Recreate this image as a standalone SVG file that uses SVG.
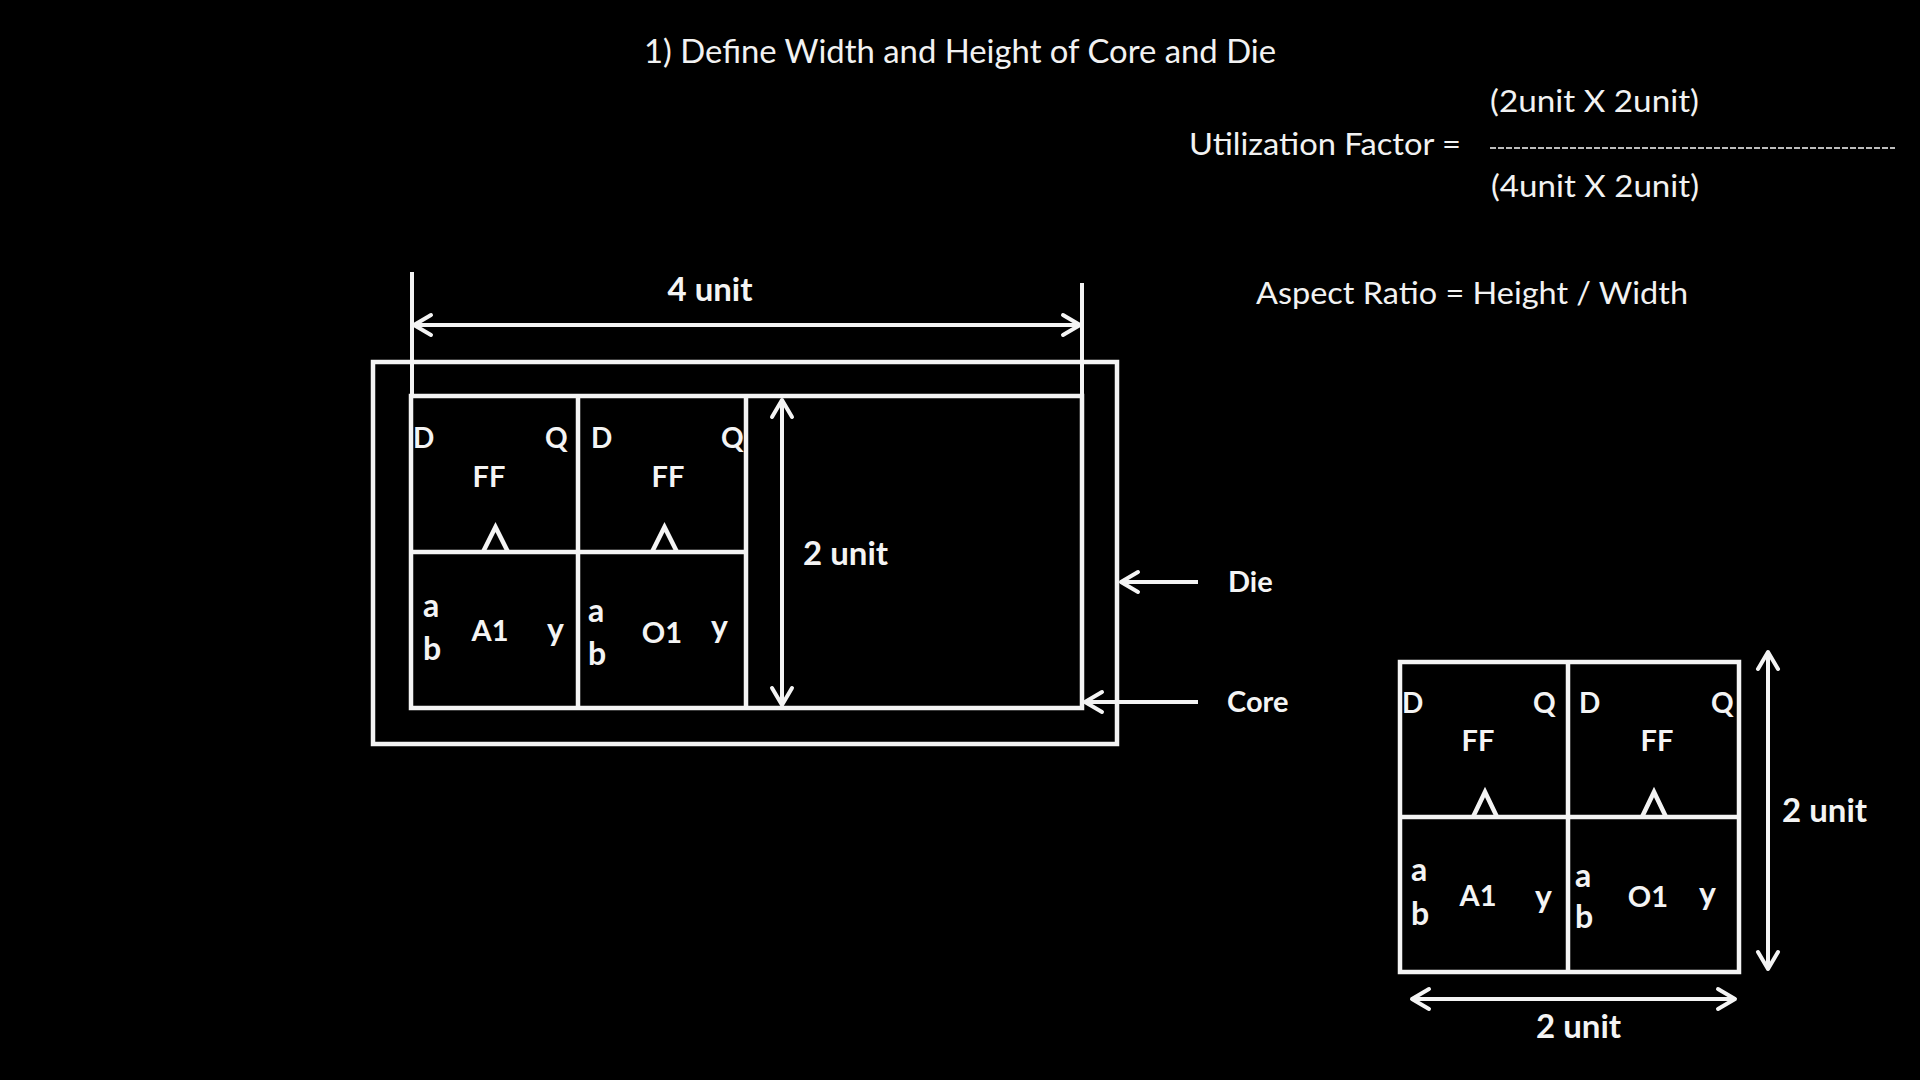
<svg xmlns="http://www.w3.org/2000/svg" width="1920" height="1080" viewBox="0 0 1920 1080">
<defs>
<style>
.ln{stroke:#f4f4f4;stroke-width:4.5;fill:none}
.ar{stroke:#f4f4f4;stroke-width:4;fill:none}
.reg{font-family:Lato,"Open Sans","Liberation Sans",sans-serif;fill:#f2f2f2;font-weight:400}
.b{font-family:Lato,"Open Sans","Liberation Sans",sans-serif;fill:#f4f4f4;font-weight:700}
.pin{font-size:28px}
.lc{font-size:32px}
.cell{font-size:29px}
.dim{font-size:33px}
.mid{text-anchor:middle}
</style>
<marker id="chev" viewBox="-22 -13 26 26" refX="0" refY="0" markerWidth="26" markerHeight="26" markerUnits="userSpaceOnUse" orient="auto-start-reverse">
<path d="M -17 -10 L 0 0 L -17 10" fill="none" stroke="#f4f4f4" stroke-width="4" stroke-linecap="round" stroke-linejoin="round"/>
</marker>
</defs>
<rect width="1920" height="1080" fill="#000"/>

<g id="title">
<text class="reg" x="644" y="63" font-size="32" textLength="632" lengthAdjust="spacingAndGlyphs">1) Define Width and Height of Core and Die</text>
</g>

<g id="utilization">
<text class="reg" x="1189" y="155" font-size="30" textLength="272" lengthAdjust="spacingAndGlyphs">Utilization Factor =</text>
<text class="reg" x="1490" y="112" font-size="30" textLength="209" lengthAdjust="spacingAndGlyphs">(2unit X 2unit)</text>
<line x1="1490" y1="148" x2="1895" y2="148" stroke="#bdbdbd" stroke-width="2" stroke-dasharray="6 2"/>
<text class="reg" x="1491" y="197" font-size="30" textLength="208" lengthAdjust="spacingAndGlyphs">(4unit X 2unit)</text>
</g>

<g id="aspect">
<text class="reg" x="1256" y="304" font-size="30" textLength="432" lengthAdjust="spacingAndGlyphs">Aspect Ratio = Height / Width</text>
</g>

<g id="die">
<rect class="ln" x="373" y="362" width="744" height="382"/>
<text class="b" x="1228" y="592" font-size="29">Die</text>
</g>

<g id="core">
<rect class="ln" x="411" y="396" width="671" height="312"/>
<text class="b" x="1227" y="712" font-size="29">Core</text>
</g>

<g id="core-cells">
<line class="ln" x1="578" y1="396" x2="578" y2="708"/>
<line class="ln" x1="746" y1="396" x2="746" y2="708"/>
<line class="ln" x1="411" y1="552" x2="746" y2="552"/>
<polyline class="ln" points="483,552 495.5,527 508,552"/>
<polyline class="ln" points="652,552 664.5,527 677,552"/>
</g>

<g id="ff1">
<text class="b pin" x="413" y="448">D</text>
<text class="b pin" x="545" y="448">Q</text>
<text class="b cell mid" x="489" y="487">FF</text>
</g>
<g id="ff2">
<text class="b pin" x="591" y="448">D</text>
<text class="b pin" x="721" y="448">Q</text>
<text class="b cell mid" x="668" y="487">FF</text>
</g>
<g id="a1">
<text class="b lc" x="423" y="617">a</text>
<text class="b lc" x="423" y="660">b</text>
<text class="b cell mid" x="490" y="641">A1</text>
<text class="b lc" x="547" y="641">y</text>
</g>
<g id="o1">
<text class="b lc" x="588" y="622">a</text>
<text class="b lc" x="588" y="665">b</text>
<text class="b cell mid" x="662" y="643">O1</text>
<text class="b lc" x="711" y="638">y</text>
</g>

<g id="dim-labels">
<text class="b dim mid" x="710" y="301">4 unit</text>
<text class="b dim" x="803" y="565">2 unit</text>
<text class="b dim" x="1782" y="822">2 unit</text>
<text class="b dim" x="1536" y="1038">2 unit</text>
</g>

<g id="small-block">
<rect class="ln" x="1400" y="662" width="339" height="310"/>
<line class="ln" x1="1568" y1="662" x2="1568" y2="972"/>
<line class="ln" x1="1400" y1="817" x2="1739" y2="817"/>
<polyline class="ln" points="1473,817 1485,792 1497,817"/>
<polyline class="ln" points="1642,817 1654,792 1666,817"/>
</g>
<g id="small-ff1">
<text class="b pin" x="1402" y="713">D</text>
<text class="b pin" x="1533" y="713">Q</text>
<text class="b cell mid" x="1478" y="751">FF</text>
</g>
<g id="small-ff2">
<text class="b pin" x="1579" y="713">D</text>
<text class="b pin" x="1711" y="713">Q</text>
<text class="b cell mid" x="1657" y="751">FF</text>
</g>
<g id="small-a1">
<text class="b lc" x="1411" y="881">a</text>
<text class="b lc" x="1411" y="925">b</text>
<text class="b cell mid" x="1478" y="906">A1</text>
<text class="b lc" x="1535" y="908">y</text>
</g>
<g id="small-o1">
<text class="b lc" x="1575" y="887">a</text>
<text class="b lc" x="1575" y="928">b</text>
<text class="b cell mid" x="1648" y="907">O1</text>
<text class="b lc" x="1699" y="905">y</text>
</g>

<g id="connectors">
<line class="ar" x1="412" y1="272" x2="412" y2="396"/>
<line class="ar" x1="1082" y1="283" x2="1082" y2="396"/>
<line class="ar" x1="414" y1="325" x2="1080" y2="325" marker-start="url(#chev)" marker-end="url(#chev)"/>
<line class="ar" x1="782" y1="400" x2="782" y2="705" marker-start="url(#chev)" marker-end="url(#chev)"/>
<line class="ar" x1="1198" y1="582" x2="1121" y2="582" marker-end="url(#chev)"/>
<line class="ar" x1="1198" y1="702" x2="1085" y2="702" marker-end="url(#chev)"/>
<line class="ar" x1="1768" y1="652" x2="1768" y2="969" marker-start="url(#chev)" marker-end="url(#chev)"/>
<line class="ar" x1="1412" y1="999" x2="1735" y2="999" marker-start="url(#chev)" marker-end="url(#chev)"/>
</g>
</svg>
